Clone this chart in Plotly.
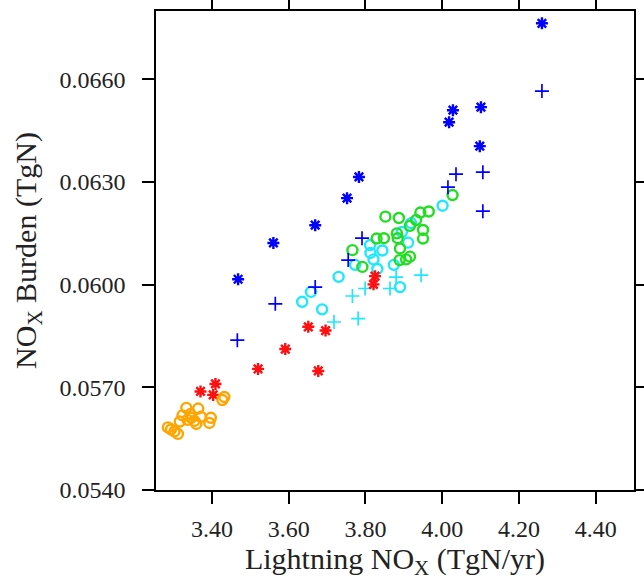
import plotly.graph_objects as go

# Lightning NOx (TgN/yr) vs NOx burden (TgN), one list pair per group

blue_star_x = [4.260, 4.028, 4.018, 4.101, 4.098, 3.783, 3.752, 3.669, 3.560, 3.468]
blue_star_y = [0.06764, 0.06510, 0.06475, 0.06519, 0.06405, 0.06315, 0.06253, 0.06174, 0.06122, 0.06016]

blue_plus_x = [4.260, 4.036, 4.106, 4.015, 4.106, 3.791, 3.755, 3.669, 3.565, 3.466]
blue_plus_y = [0.06566, 0.06323, 0.06329, 0.06285, 0.06215, 0.06136, 0.06072, 0.05993, 0.05944, 0.05838]

cyan_circle_x = [4.001, 3.919, 3.911, 3.812, 3.813, 3.821, 3.844, 3.874, 3.773, 3.831,
                 3.730, 3.658, 3.635, 3.687, 3.890, 3.895]
cyan_circle_y = [0.06231, 0.06180, 0.06123, 0.06116, 0.06093, 0.06074, 0.06100, 0.06058, 0.06058, 0.06046,
                 0.06023, 0.05979, 0.05950, 0.05928, 0.05993, 0.06154]

cyan_plus_x = [3.880, 3.945, 3.864, 3.799, 3.766, 3.781, 3.718]
cyan_plus_y = [0.06022, 0.06028, 0.05989, 0.05989, 0.05967, 0.05901, 0.05891]

green_x = [4.027, 3.965, 3.943, 3.932, 3.916, 3.950, 3.950, 3.887, 3.852, 3.882,
           3.884, 3.829, 3.848, 3.890, 3.889, 3.906, 3.916, 3.766, 3.792]
green_y = [0.06262, 0.06214, 0.06211, 0.06189, 0.06172, 0.06160, 0.06135, 0.06195, 0.06199, 0.06150,
           0.06136, 0.06135, 0.06136, 0.06106, 0.06072, 0.06074, 0.06082, 0.06101, 0.06052]

red_x = [3.825, 3.821, 3.651, 3.696, 3.591, 3.520, 3.677, 3.409, 3.370, 3.403]
red_y = [0.06025, 0.06001, 0.05877, 0.05866, 0.05812, 0.05754, 0.05748, 0.05710, 0.05688, 0.05678]

orange_x = [3.427, 3.432, 3.333, 3.364, 3.323, 3.344, 3.371, 3.354, 3.336, 3.316,
            3.359, 3.397, 3.393, 3.285, 3.293, 3.302, 3.311, 3.346]
orange_y = [0.05663, 0.05672, 0.05640, 0.05638, 0.05618, 0.05622, 0.05614, 0.05602, 0.05605, 0.05600,
            0.05593, 0.05611, 0.05596, 0.05583, 0.05577, 0.05571, 0.05564, 0.05611]

x_ticks = [3.40, 3.60, 3.80, 4.00, 4.20, 4.40]
y_ticks = [0.0540, 0.0570, 0.0600, 0.0630, 0.0660]

BLUE = "#0000ff"
CYAN = "#1ee8ff"
GREEN = "#22dd22"
RED = "#ff1010"
ORANGE = "#ffa500"


def group(x, y, color, symbol, size, width):
    return go.Scatter(
        x=x, y=y, mode="markers", showlegend=False, hoverinfo="x+y",
        marker=dict(symbol=symbol, size=size, color=color,
                    line=dict(color=color, width=width)),
    )


fig = go.Figure()
fig.add_trace(group(cyan_circle_x, cyan_circle_y, CYAN, "circle-open", 10, 2.4))
fig.add_trace(group(cyan_plus_x, cyan_plus_y, CYAN, "cross-thin-open", 10, 1.7))
fig.add_trace(group(green_x, green_y, GREEN, "circle-open", 10, 2.4))
fig.add_trace(group(blue_plus_x, blue_plus_y, BLUE, "cross-thin-open", 10, 1.7))
fig.add_trace(group(blue_star_x, blue_star_y, BLUE, "asterisk-open", 10, 2.4))
fig.add_trace(group(red_x, red_y, RED, "asterisk-open", 10, 2.4))
fig.add_trace(group(orange_x, orange_y, ORANGE, "circle-open", 10, 2.4))

axis_common = dict(
    showgrid=False, zeroline=False, showline=True, linecolor="black", linewidth=1.6,
    mirror="ticks", ticks="outside", ticklen=12, tickwidth=1.6, tickcolor="black",
    automargin=False,
    tickfont=dict(family="Liberation Serif", size=24, color="#222222"),
    title_font=dict(family="Liberation Serif", size=30, color="#222222"),
)

fig.update_xaxes(
    range=[3.254, 4.50], tickvals=x_ticks, ticktext=[f"{v:.2f}" for v in x_ticks],
    title_text="Lightning NO<sub>X</sub> (TgN/yr)", title_standoff=6,
    ticklabelstandoff=4, **axis_common,
)
fig.update_yaxes(
    range=[0.0540, 0.0680], tickvals=y_ticks, ticktext=[f"{v:.4f}" for v in y_ticks],
    title_text="NO<sub>X</sub> Burden (TgN)", title_standoff=14,
    ticklabelstandoff=12, **axis_common,
)

fig.update_layout(
    width=644, height=583,
    margin=dict(l=156, r=10, t=11, b=93),
    paper_bgcolor="white", plot_bgcolor="white",
)

fig.write_html("out.html")
